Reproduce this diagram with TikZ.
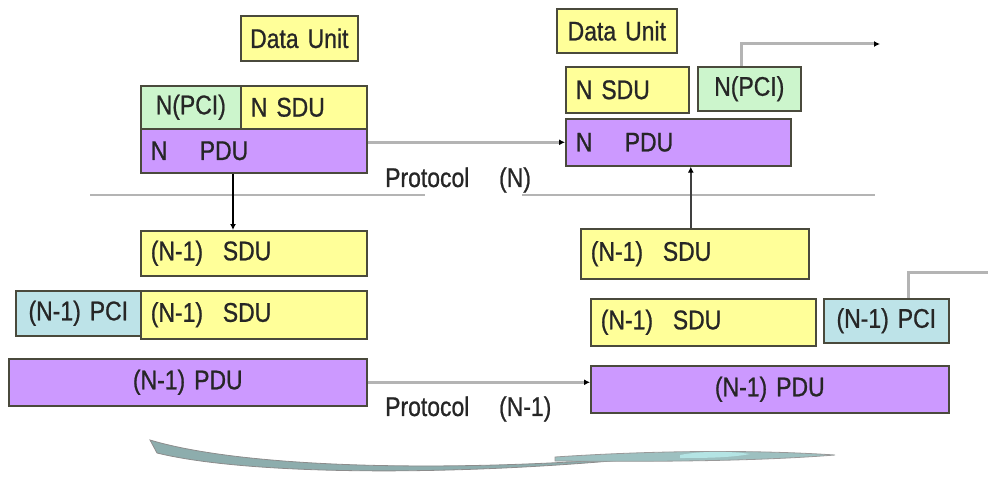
\documentclass[tikz,border=0pt]{standalone}
\usepackage{fontspec}
\setmainfont{Liberation Sans}[FakeStretch=0.85,FakeBold=0.8]
\usetikzlibrary{arrows.meta,calc}

\definecolor{sduyellow}{HTML}{FFFF99}
\definecolor{pdupurple}{HTML}{CC99FF}
\definecolor{pcimint}{HTML}{CCF5CC}
\definecolor{pciblue}{HTML}{BDE3E8}
\definecolor{edge}{HTML}{4A4A3C}
\definecolor{wire}{HTML}{B4B4B4}
\definecolor{ribbon}{HTML}{9DC0C0}
\definecolor{ribbonlite}{HTML}{B4E4E4}

\tikzset{
  unit/.style={draw=edge, line width=1.6pt, anchor=north west, inner sep=0pt,
    font=\fontsize{27}{29}\selectfont, text=black!85},
  leftbox/.style 2 args={unit, minimum width=#1, minimum height=#2,
    text width=#1-20pt, align=left},
  midbox/.style 2 args={unit, minimum width=#1, minimum height=#2,
    text width=#1, align=center},
  link/.style={draw=wire, line width=3pt, -{Latex[black,length=6pt,width=6pt]}},
  plainlink/.style={draw=wire, line width=3pt},
  label/.style={font=\fontsize{27}{29}\selectfont, text=black!85, inner sep=0pt},
}

\begin{document}
\begin{tikzpicture}[x=1pt, y=-1pt]
  \useasboundingbox (0,0) rectangle (988,484);

  % ---- sending side, layer N ----
  \node[midbox={117}{45}, fill=sduyellow] (duL) at (240,15) {Data Unit};
  \node[midbox={100}{43}, fill=pcimint] (npciL) at (140,85) {N(PCI)};
  \node[leftbox={126}{43}, fill=sduyellow] (nsduL) at (240,85) {N SDU};
  \node[leftbox={226}{44}, fill=pdupurple] (npduL) at (140,128) {N\hspace{1.2em}PDU};

  % ---- receiving side, layer N ----
  \node[midbox={120}{44}, fill=sduyellow] (duR) at (556,8) {Data Unit};
  \node[leftbox={123}{46}, fill=sduyellow] (nsduR) at (565,66) {N SDU};
  \node[midbox={103}{44}, fill=pcimint] (npciR) at (697,66) {N(PCI)};
  \node[leftbox={225}{47}, fill=pdupurple] (npduR) at (565,118) {N\hspace{1.2em}PDU};

  % ---- sending side, layer N-1 ----
  \node[leftbox={226}{45}, fill=sduyellow] (sduAL) at (140,230) {(N-1)\hspace{0.4em} SDU};
  \node[midbox={125}{45}, fill=pciblue] (pciL) at (15,290) {(N-1) PCI};
  \node[leftbox={226}{48}, fill=sduyellow] (sduBL) at (140,290) {(N-1)\hspace{0.4em} SDU};
  \node[midbox={358}{47}, fill=pdupurple] (pduL) at (8,358) {(N-1) PDU};

  % ---- receiving side, layer N-1 ----
  \node[leftbox={228}{50}, fill=sduyellow] (sduAR) at (580,228) {(N-1)\hspace{0.4em} SDU};
  \node[leftbox={225}{47}, fill=sduyellow] (sduBR) at (590,298) {(N-1)\hspace{0.4em} SDU};
  \node[midbox={125}{44}, fill=pciblue] (pciR) at (823,298) {(N-1) PCI};
  \node[midbox={358}{47}, fill=pdupurple] (pduR) at (590,365) {(N-1) PDU};

  % ---- protocol labels ----
  \node[label, anchor=west] (protN) at (385,180) {Protocol\hspace{1.1em}(N)};
  \node[label, anchor=west] (protN1) at (385,409) {Protocol\hspace{1.1em}(N-1)};

  % ---- layer boundary ----
  \draw[plainlink, line width=2.5pt] (90,195) -- (425,195);
  \draw[plainlink, line width=2.5pt] (522,195) -- (875,195);

  % ---- connectors ----
  \coordinate (outN) at (880,44);
  \coordinate (outN1) at (988,272);
  \coordinate (downL) at ($(npduL.south west)+(93,0)$);
  \coordinate (upR) at ($(sduAR.north)+(-4,0)$);
  \coordinate (pciNtap) at ($(npciR.north)+(-8,0)$);
  \coordinate (pciN1tap) at ($(pciR.north)+(22,0)$);
  \draw[link] (npduL.east |- npduR.west) -- (npduR.west);
  \draw[link] (pduL.east) -- (pduL.east -| pduR.west);
  \draw[link, draw=black, line width=1.4pt] (downL) -- (downL |- sduAL.north);
  \draw[link, draw=black!75, line width=1.6pt] (upR) -- (upR |- npduR.south);
  \draw[link] (pciNtap) |- (outN);
  \draw[plainlink] (pciN1tap) |- (outN1);

  % ---- peer-to-peer ribbon ----
  \fill[ribbon!90!black, draw=black!45, line width=0.8pt]
    (150,440) .. controls (250,470) and (480,474) .. (700,452)
    .. controls (480,478) and (250,476) .. (157,453) -- cycle;
  \fill[ribbon, draw=black!40, line width=0.8pt]
    (555,457) .. controls (660,450) and (760,450) .. (835,455)
    .. controls (760,461) and (660,462) .. (555,461) -- cycle;
  \fill[ribbonlite]
    (680,455) .. controls (700,451) and (730,451) .. (750,454)
    .. controls (730,458) and (700,458) .. (680,458) -- cycle;
\end{tikzpicture}
\end{document}
